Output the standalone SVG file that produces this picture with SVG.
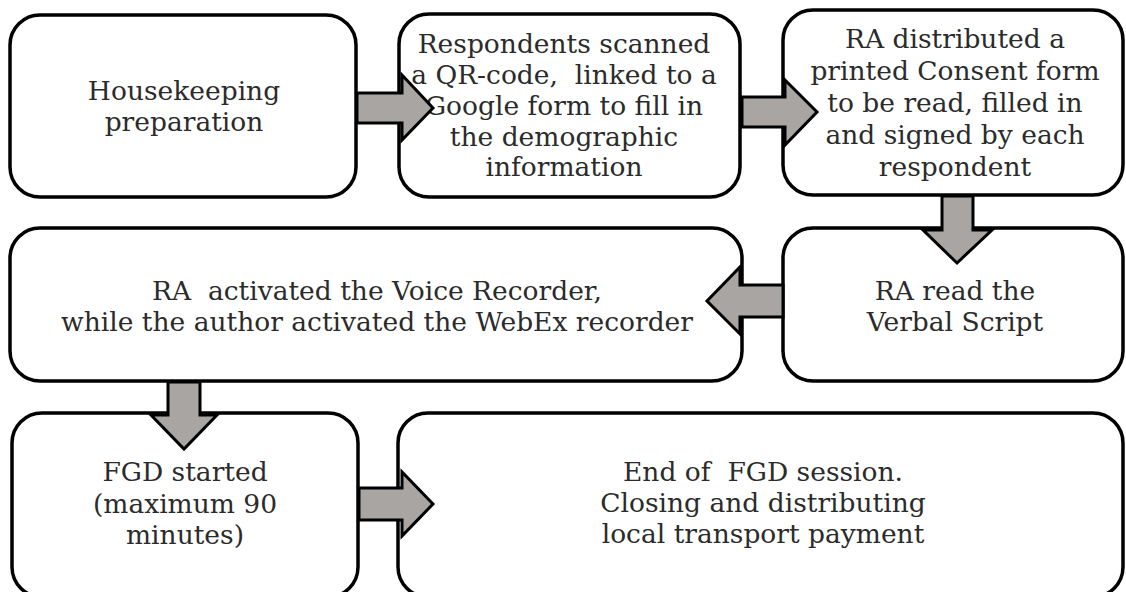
<svg xmlns="http://www.w3.org/2000/svg" width="1126" height="592" viewBox="0 0 1126 592">
<style>
.box{fill:#fff;stroke:#000;stroke-width:3.5}
.arr{fill:#a8a5a3;stroke:#000;stroke-width:3;stroke-linejoin:miter}
text{font-family:"DejaVu Serif","Liberation Serif",serif;font-size:26.5px;fill:#2b2b2b;text-anchor:middle}
</style>
<rect width="1126" height="592" fill="#fff"/>
<g id="n1"><rect class="box" x="10" y="15" width="346" height="182" rx="30"/>
<text x="184" y="100">Housekeeping</text><text x="184" y="131">preparation</text></g>
<g id="n2"><rect class="box" x="399" y="14" width="341" height="183" rx="30"/>
<text x="564" y="53">Respondents scanned</text><text x="564" y="84" xml:space="preserve">a QR-code,  linked to a</text><text x="564" y="115">Google form to fill in</text><text x="564" y="146">the demographic</text><text x="564" y="176">information</text></g>
<g id="n3"><rect class="box" x="783" y="10" width="340" height="185" rx="30"/>
<text x="955" y="48">RA distributed a</text><text x="955" y="80">printed Consent form</text><text x="955" y="112">to be read, filled in</text><text x="955" y="144">and signed by each</text><text x="955" y="176">respondent</text></g>
<g id="n4"><rect class="box" x="783" y="228" width="340" height="153" rx="30"/>
<text x="955" y="300">RA read the</text><text x="955" y="331">Verbal Script</text></g>
<g id="n5"><rect class="box" x="10" y="228" width="732" height="153" rx="30"/>
<text x="377" y="300" xml:space="preserve">RA  activated the Voice Recorder,</text><text x="377" y="331">while the author activated the WebEx recorder</text></g>
<g id="n6"><rect class="box" x="12" y="413" width="346" height="184" rx="30"/>
<text x="185" y="481">FGD started</text><text x="185" y="513">(maximum 90</text><text x="185" y="544">minutes)</text></g>
<g id="n7"><rect class="box" x="398" y="413" width="725" height="184" rx="30"/>
<text x="763" y="481" xml:space="preserve">End of  FGD session.</text><text x="763" y="512">Closing and distributing</text><text x="763" y="543">local transport payment</text></g>
<g id="connectors">
<path class="arr" d="M357,93 H402 V75 L433,108 L402,140 V123 H357 Z"/>
<path class="arr" d="M742,97 H785 V80 L817,112 L785,145 V127 H742 Z"/>
<path class="arr" d="M942,196 V230 H923 L957,263 L992,230 H973 V196 Z"/>
<path class="arr" d="M783,285 H740 V267 L707,301 L740,334 V317 H783 Z"/>
<path class="arr" d="M168,382 V415 H151 L184,449 L217,415 H200 V382 Z"/>
<path class="arr" d="M359,488 H402 V472 L433,504 L402,536 V520 H359 Z"/>
</g>
</svg>
